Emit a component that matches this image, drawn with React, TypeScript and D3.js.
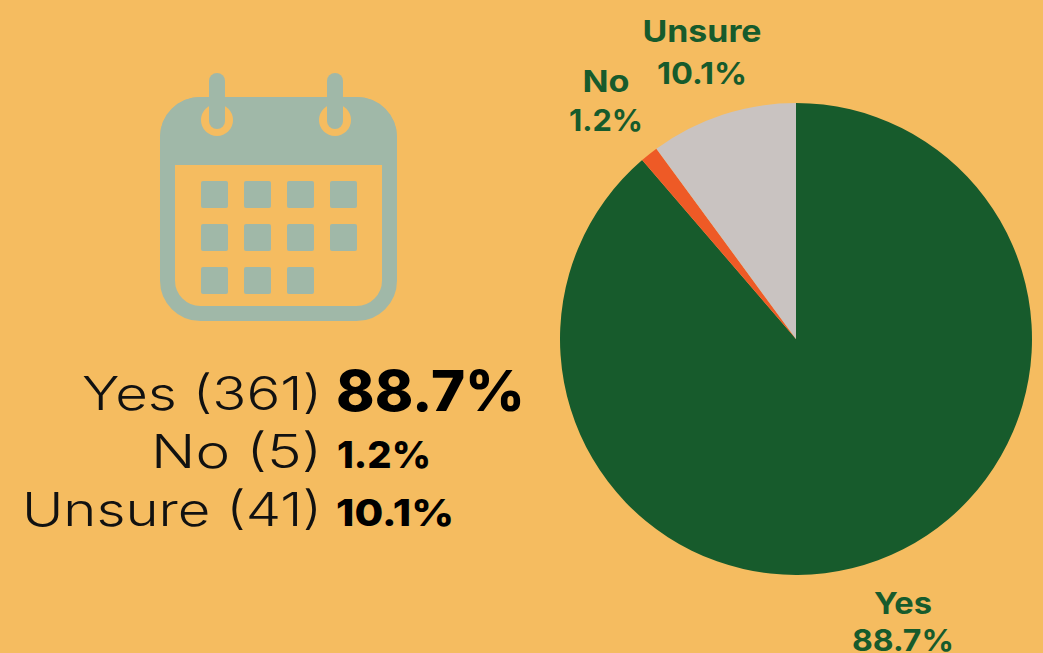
import React from "react";
import * as d3 from "d3";

const categories = ["Yes", "No", "Unsure"];
const counts = [361, 5, 41];
const percentLabels = ["88.7%", "1.2%", "10.1%"];
const sliceColors = ["#175b2c", "#ee5a26", "#c9c3c1"];
const dayRows = [4, 4, 3];

const BG = "#f5bc60";
const ICON = "#a0b8a8";
const GREEN = "#175b2c";
const FONT = "Inter, 'Noto Sans', sans-serif";

const cx = 796;
const cy = 339;
const radius = 236;

const pie = d3.pie<number>().sort(null).value((d) => d);
const arc = d3.arc<d3.PieArcDatum<number>>().innerRadius(0).outerRadius(radius);

const rowStyle = [
  { y: 410, size: 46, pctSize: 56, w: 240, pw: 189, px: 336 },
  { y: 468, size: 46, pctSize: 37, w: 171, pw: 94, px: 337 },
  { y: 526, size: 46, pctSize: 37, w: 300, pw: 118, px: 336 },
];
const sliceLabelStyle = [
  { x: 903, y1: 614, y2: 651, w1: 58, w2: 102 },
  { x: 606, y1: 92, y2: 131, w1: 47, w2: 74 },
  { x: 702, y1: 42, y2: 84, w1: 119, w2: 90 },
];

export default function App() {
  const arcs = pie(counts);
  return (
    <svg
      width={1043}
      height={653}
      viewBox="0 0 1043 653"
      style={{ position: "fixed", left: 0, top: 0, display: "block" }}
      fontFamily={FONT}
    >
      <rect width={1043} height={653} fill={BG} />

      {/* calendar icon */}
      <rect x={167.5} y={104.5} width={222} height={209} rx={33} fill="none" stroke={ICON} strokeWidth={15} />
      <path d="M160 165V137a40 40 0 0 1 40-40H357a40 40 0 0 1 40 40V165Z" fill={ICON} />
      {[217, 335].map((x) => (
        <g key={x}>
          <circle cx={x} cy={120} r={16} fill={BG} />
          <rect x={x - 8} y={73} width={16} height={56} rx={8} fill={ICON} />
        </g>
      ))}
      {dayRows.map((n, r) =>
        d3.range(n).map((c) => (
          <rect
            key={`${r}-${c}`}
            x={201 + c * 43}
            y={181 + r * 43}
            width={27}
            height={27}
            rx={2}
            fill={ICON}
          />
        ))
      )}

      {/* summary */}
      {categories.map((cat, i) => (
        <g key={cat}>
          <text
            x={322}
            y={rowStyle[i].y}
            textAnchor="end"
            fontSize={rowStyle[i].size}
            fontWeight={300}
            fill="#111"
            textLength={rowStyle[i].w}
            lengthAdjust="spacingAndGlyphs"
          >
            {`${cat} (${counts[i]})`}
          </text>
          <text
            x={rowStyle[i].px}
            y={rowStyle[i].y + (i === 0 ? 1 : 0)}
            fontSize={rowStyle[i].pctSize}
            fontWeight={800}
            fill="#000"
            textLength={rowStyle[i].pw}
            lengthAdjust="spacingAndGlyphs"
          >
            {percentLabels[i]}
          </text>
        </g>
      ))}

      {/* pie */}
      <g transform={`translate(${cx},${cy})`}>
        {arcs.map((a, i) => (
          <path key={categories[i]} d={arc(a) ?? ""} fill={sliceColors[i]} />
        ))}
      </g>

      {/* slice labels */}
      {categories.map((cat, i) => {
        const s = sliceLabelStyle[i];
        return (
          <g key={cat} fontSize={30} fontWeight={700} fill={GREEN} textAnchor="middle">
            <text x={s.x} y={s.y1} textLength={s.w1} lengthAdjust="spacingAndGlyphs">{cat}</text>
            <text x={s.x} y={s.y2} textLength={s.w2} lengthAdjust="spacingAndGlyphs">{percentLabels[i]}</text>
          </g>
        );
      })}
    </svg>
  );
}
